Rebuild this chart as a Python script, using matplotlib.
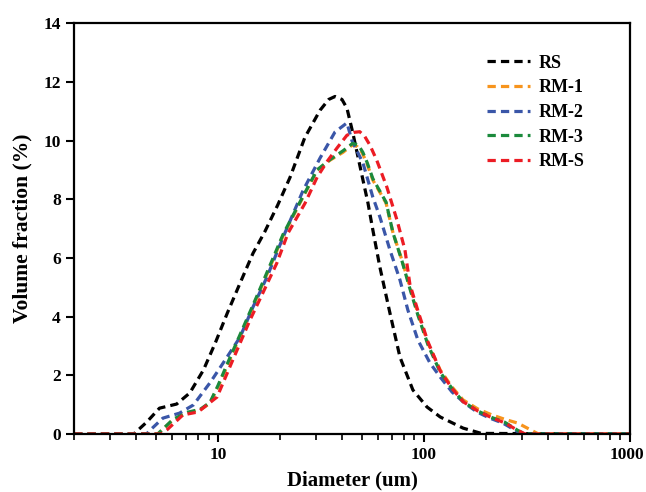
import numpy as np
import matplotlib
matplotlib.use("Agg")
import matplotlib.pyplot as plt
from matplotlib.ticker import LogLocator, FixedLocator, NullFormatter
from matplotlib.transforms import ScaledTranslation

plt.rcParams["font.family"] = ["Liberation Serif", "DejaVu Serif"]
plt.rcParams["font.weight"] = "bold"

# values (diameter in um, volume fraction in %)
rs_x = [2, 3.9, 4.5, 5.2, 6.3, 7.3, 8.5, 9.7, 11.1, 12.8, 14.8, 16.9, 19.5, 22.4, 26.4,
        31.3, 34.5, 37, 40, 42.3, 45.2, 50.6, 53.5, 56.5, 61.1, 68.4, 76.5, 88.4, 103.5,
        120, 155, 190, 1000]
rs_y = [0, 0, 0.4, 0.88, 1.02, 1.4, 2.18, 3.1, 4.12, 5.14, 6.16, 6.9, 7.8, 8.75, 10.1,
        11.03, 11.4, 11.5, 11.4, 11.1, 10.25, 8.65, 7.87, 6.95, 5.69, 4.12, 2.62, 1.5, 0.92,
        0.58, 0.2, 0.02, 0]

rm1_x = [2, 5.1, 6.05, 7.1, 8.2, 9.15, 10, 11.4, 13.2, 15.5, 17.9, 20.7, 25, 30.3, 35,
         40.5, 44.7, 47.3, 50, 52.8, 56.5, 65.5, 70.8, 78.2, 85.5, 93.5, 104.5, 120, 137,
         155, 183, 214, 247, 286, 334, 360, 1000]
rm1_y = [0, 0, 0.48, 0.72, 0.82, 1.05, 1.6, 2.52, 3.54, 4.67, 5.69, 6.75, 7.87, 8.99, 9.33,
         9.6, 9.84, 9.8, 9.6, 9.23, 8.65, 7.87, 6.85, 5.93, 5.0, 4.12, 3.1, 2.18, 1.6,
         1.16, 0.85, 0.65, 0.5, 0.37, 0.12, 0, 0]

rm2_x = [2, 4.5, 4.7, 5.4, 6.5, 7.6, 9.2, 10.6, 12.8, 14.8, 17.3, 20.7, 25.9, 31.3, 37,
         42.3, 44.7, 50.6, 56.5, 61.1, 68.4, 76.5, 83.6, 93.5, 107, 120, 137, 158, 181,
         209, 242, 290, 310, 1000]
rm2_y = [0, 0, 0.14, 0.54, 0.71, 0.99, 1.77, 2.42, 3.3, 4.33, 5.35, 6.7, 8.3, 9.4, 10.29,
         10.6, 10.0, 9.23, 8.07, 7.4, 6.27, 5.25, 4.22, 3.2, 2.42, 1.94, 1.43, 1.05, 0.75,
         0.54, 0.37, 0.05, 0, 0]

rm3_x = [2, 5.1, 6.05, 7.1, 8.2, 9.15, 10, 11.4, 13.2, 15.5, 17.9, 20.7, 25, 30.3, 35,
         40.5, 45, 48, 50.5, 53, 56.5, 65.5, 70.8, 78.2, 85.5, 93.5, 104.5, 120, 137, 155,
         183, 214, 247, 286, 310, 1000]
rm3_y = [0, 0, 0.5, 0.74, 0.84, 1.08, 1.65, 2.58, 3.6, 4.72, 5.75, 6.8, 7.9, 9.0, 9.35,
         9.65, 9.9, 9.85, 9.6, 9.25, 8.7, 7.9, 6.85, 5.9, 4.95, 4.05, 3.05, 2.1, 1.55, 1.1,
         0.78, 0.56, 0.4, 0.12, 0, 0]

rms_x = [2, 5.3, 5.65, 6.76, 8.0, 9.9, 11.8, 14.3, 16.5, 19.3, 21.9, 26.5, 30.3, 34, 37.8,
         42.3, 46, 48.8, 51.5, 54.7, 59, 66.1, 74, 80.9, 85.5, 93.5, 104.5, 120, 137, 155,
         183, 214, 247, 286, 310, 1000]
rms_y = [0, 0, 0.14, 0.65, 0.75, 1.26, 2.52, 3.88, 4.8, 5.82, 6.85, 7.87, 8.75, 9.3, 9.74,
         10.18, 10.28, 10.3, 10.15, 9.84, 9.33, 8.41, 7.29, 6.27, 5.1, 4.2, 3.15, 2.15, 1.55,
         1.1, 0.78, 0.55, 0.38, 0.12, 0, 0]

labels = ["RS", "RM-1", "RM-2", "RM-3", "RM-S"]
colors = ["#000000", "#f7941d", "#3a56a8", "#1b8a3c", "#ec1c24"]
series = [(rs_x, rs_y), (rm1_x, rm1_y), (rm2_x, rm2_y), (rm3_x, rm3_y), (rms_x, rms_y)]

fig = plt.figure(figsize=(6.46, 4.92), dpi=100)
ax = fig.add_axes([0.1146, 0.1179, 0.8604, 0.8351])

for (x, y), lab, c in zip(series, labels, colors):
    ax.plot(x, y, linestyle=(0, (2.6, 1.6)), color=c, linewidth=2.3, label=lab)

ax.set_xscale("log")
ax.set_xlim(2, 1000)
ax.set_ylim(0, 14)
ax.xaxis.set_major_locator(FixedLocator([10, 100, 1000]))
ax.xaxis.set_major_formatter(matplotlib.ticker.FuncFormatter(lambda v, p: f"{v:g}"))
ax.xaxis.set_minor_locator(LogLocator(base=10, subs=np.arange(2, 10)))
ax.xaxis.set_minor_formatter(NullFormatter())
ax.set_yticks(np.arange(0, 15, 2))

ax.tick_params(axis="both", which="major", direction="out", length=6, width=1.5,
               labelsize=12.5, top=False, right=False)
ax.tick_params(axis="x", which="minor", direction="out", length=4, width=1.2, top=False)
for lab in ax.get_xticklabels() + ax.get_yticklabels():
    lab.set_fontweight("bold")
for s in ax.spines.values():
    s.set_linewidth(1.6)

# keep "1000" inside the canvas
fig.canvas.draw()
last = ax.get_xticklabels()[-1]
last.set_transform(last.get_transform() + ScaledTranslation(-3 / 100, 0, fig.dpi_scale_trans))

ax.set_xlabel("Diameter (um)", fontsize=15, fontweight="bold", labelpad=5)
ax.set_ylabel("Volume fraction (%)", fontsize=15.5, fontweight="bold", labelpad=8)

leg = ax.legend(loc="upper left", frameon=False, fontsize=13, handlelength=2.4,
                labelspacing=0.42, bbox_to_anchor=(0.743, 0.923), borderaxespad=0,
                borderpad=0, handletextpad=0.45)
for t in leg.get_texts():
    t.set_fontweight("bold")

fig.savefig("out.png", dpi=100)
